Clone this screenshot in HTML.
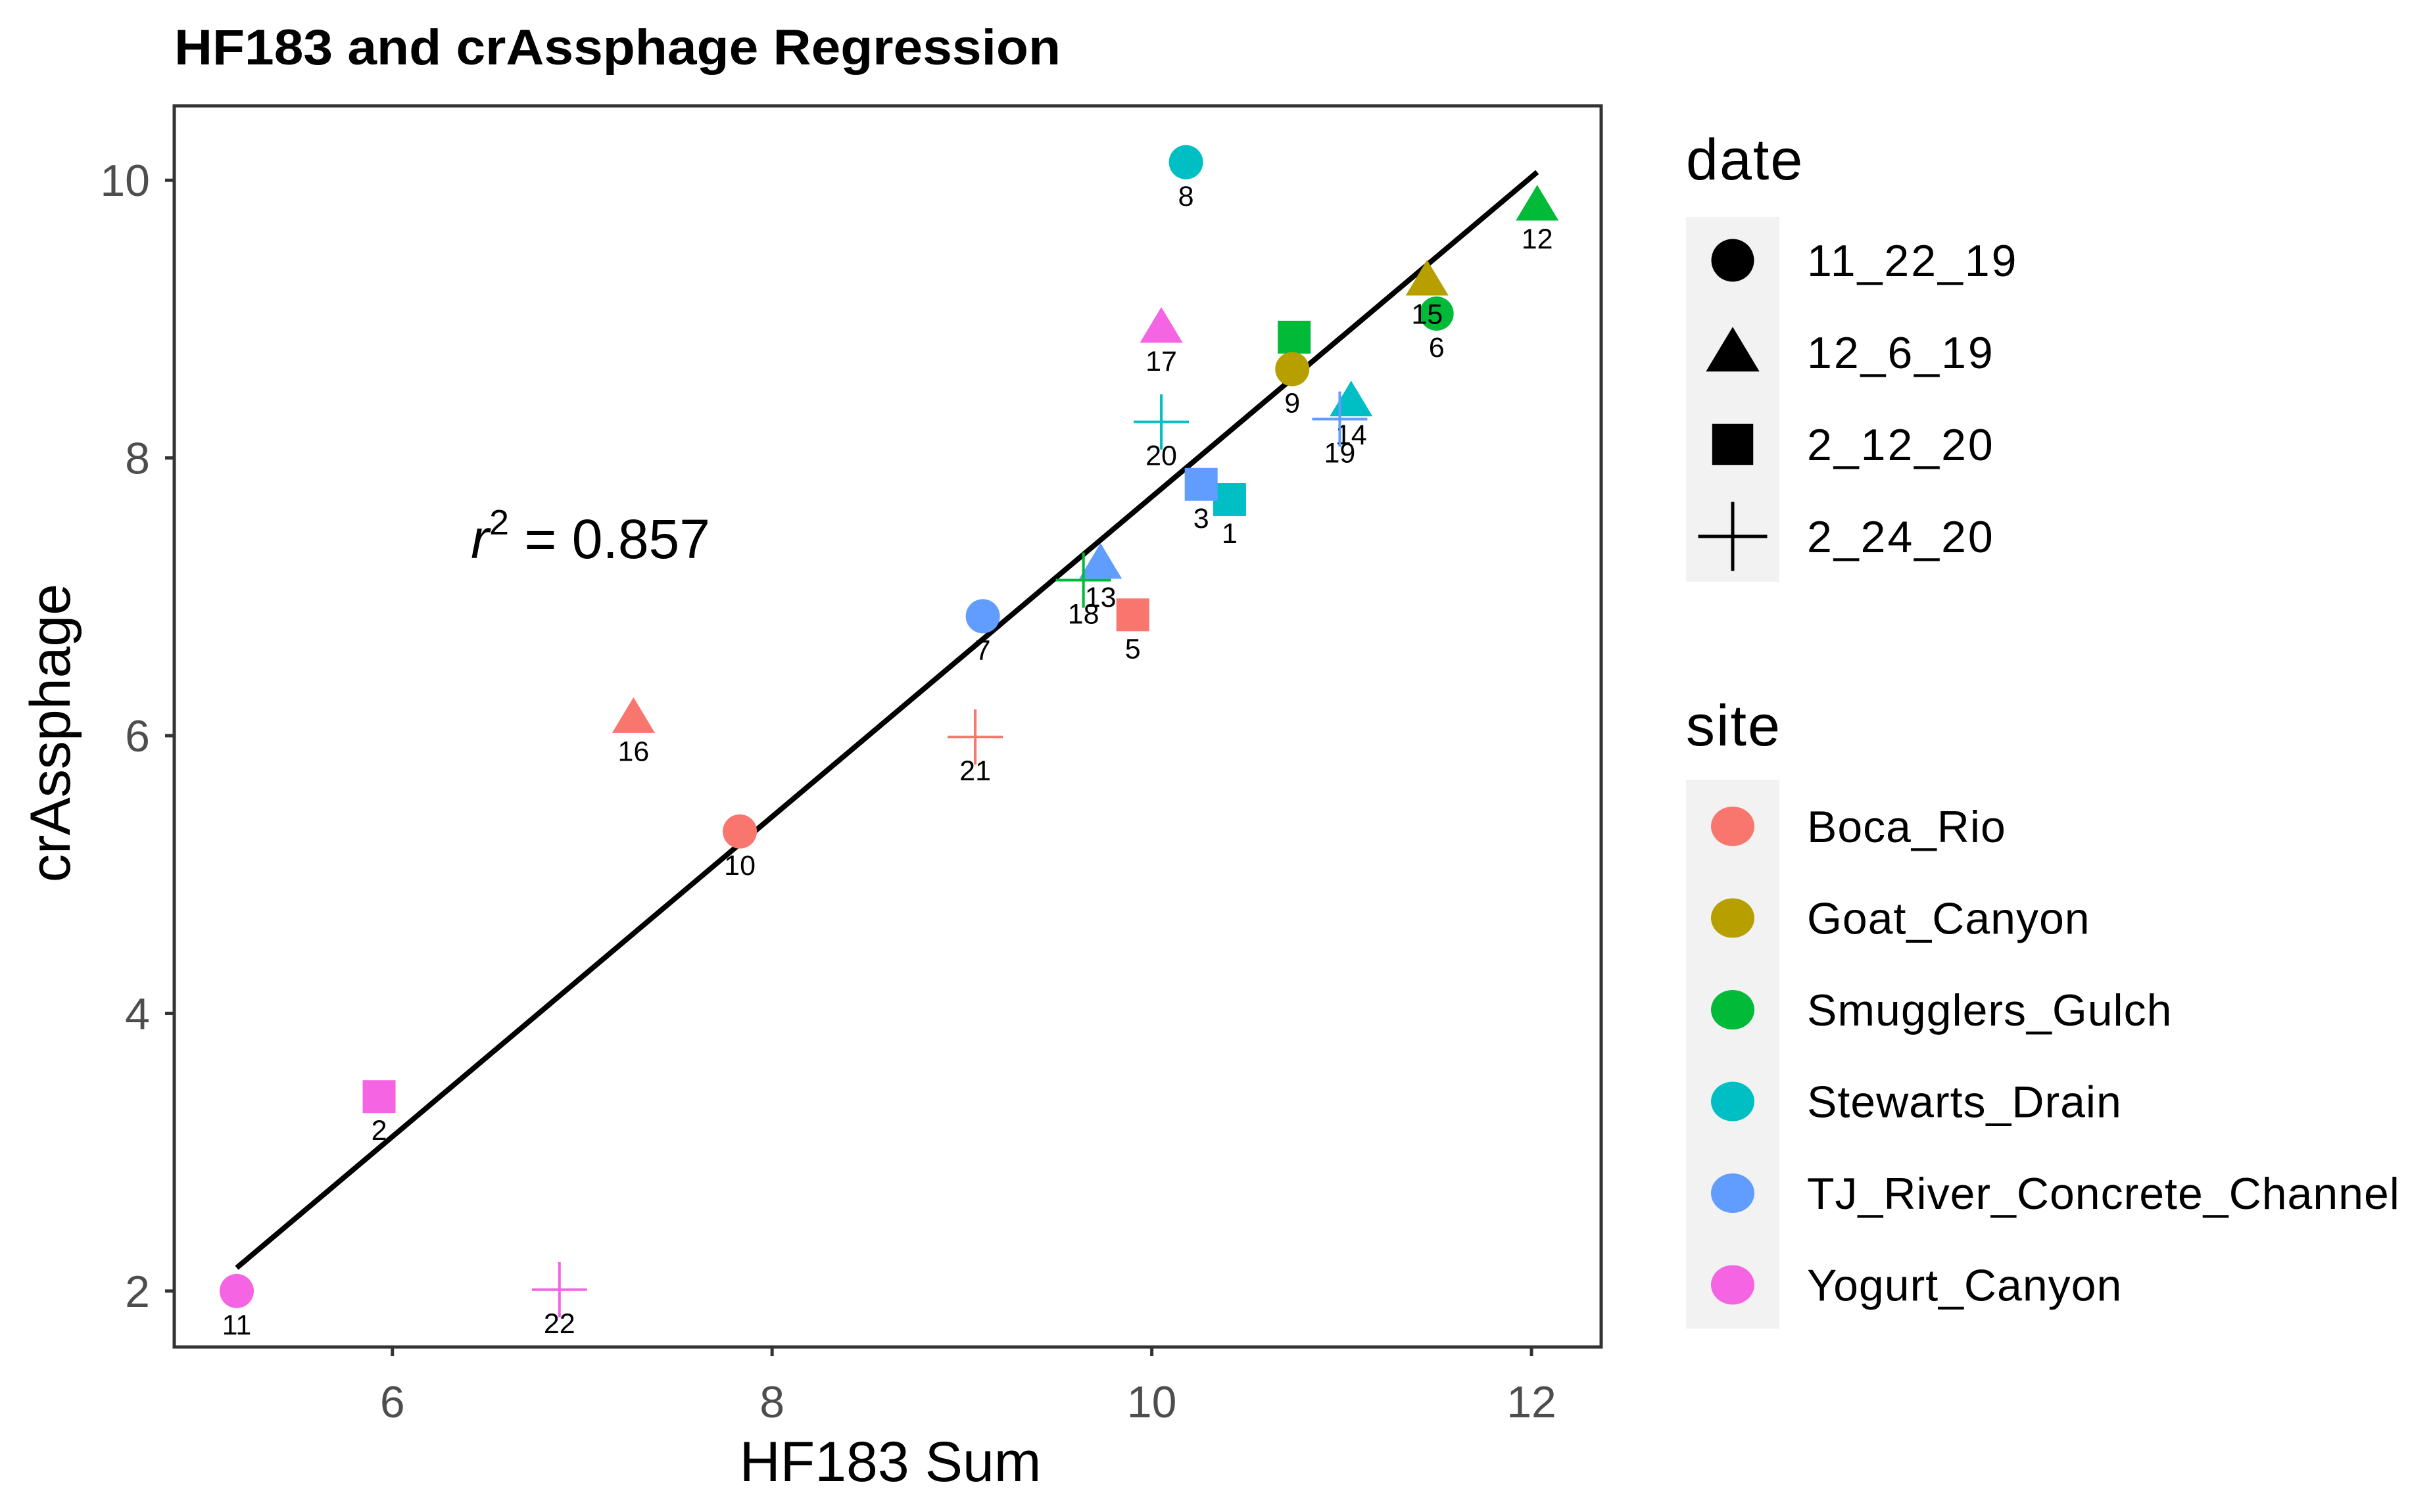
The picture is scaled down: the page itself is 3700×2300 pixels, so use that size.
<!DOCTYPE html>
<html><head><meta charset="utf-8"><style>
html,body{margin:0;padding:0;background:#fff;}
svg{display:block;font-family:"Liberation Sans",sans-serif;}
</style></head><body>
<svg id="chart" width="3700" height="2300" viewBox="0 0 3700 2300" xmlns="http://www.w3.org/2000/svg">
<rect width="3700" height="2300" fill="#fff"/>
<text x="265" y="98" font-size="76" font-weight="bold" fill="#000" textLength="1348" lengthAdjust="spacingAndGlyphs">HF183 and crAssphage Regression</text>
<g id="plot"></g>
<text x="1354" y="2253" font-size="86" text-anchor="middle" fill="#000">HF183 Sum</text>
<text transform="translate(106,1115) rotate(-90)" font-size="86" text-anchor="middle" fill="#000">crAssphage</text>
<text x="716" y="849" font-size="84" fill="#000"><tspan font-style="italic">r</tspan><tspan font-size="54" dy="-36">2</tspan><tspan dy="36"> = 0.857</tspan></text>
<g id="legend"></g>
</svg>
<script>
const ids = [1,2,3,4,5,6,7,8,9,10,11,12,13,14,15,16,17,18,19,20,21,22];
const hf183 = [10.41,5.93,10.26,10.75,9.90,11.50,9.11,10.18,10.74,7.83,5.18,12.03,9.73,11.05,11.45,7.27,10.05,9.64,10.99,10.05,9.07,6.88];
const crass = [7.70,3.40,7.81,8.87,6.87,9.04,6.86,10.13,8.64,5.31,2.00,9.82,7.24,8.41,9.28,6.13,8.94,7.12,8.28,8.26,5.99,2.01];
const dates = ["2_12_20","2_12_20","2_12_20","2_12_20","2_12_20","11_22_19","11_22_19","11_22_19","11_22_19","11_22_19","11_22_19","12_6_19","12_6_19","12_6_19","12_6_19","12_6_19","12_6_19","2_24_20","2_24_20","2_24_20","2_24_20","2_24_20"];
const sites = ["Stewarts_Drain","Yogurt_Canyon","TJ_River_Concrete_Channel","Smugglers_Gulch","Boca_Rio","Smugglers_Gulch","TJ_River_Concrete_Channel","Stewarts_Drain","Goat_Canyon","Boca_Rio","Yogurt_Canyon","Smugglers_Gulch","TJ_River_Concrete_Channel","Stewarts_Drain","Goat_Canyon","Boca_Rio","Yogurt_Canyon","Smugglers_Gulch","TJ_River_Concrete_Channel","Stewarts_Drain","Boca_Rio","Yogurt_Canyon"];
const dateLevels = ["11_22_19","12_6_19","2_12_20","2_24_20"];
const siteLevels = ["Boca_Rio","Goat_Canyon","Smugglers_Gulch","Stewarts_Drain","TJ_River_Concrete_Channel","Yogurt_Canyon"];
const siteColors = ["#F8766D","#B79F00","#00BA38","#00BFC4","#619CFF","#F564E3"];
const xTicks = [6,8,10,12];
const yTicks = [2,4,6,8,10];
const fitSlope = [1.152];
const fitIntercept = [-3.80];

const NS="http://www.w3.org/2000/svg";
const P={l:265,r:2435,t:161,b:2049};
const XD=[4.851,12.367], YD=[1.597,10.536];
const sx=v=>P.l+(v-XD[0])/(XD[1]-XD[0])*(P.r-P.l);
const sy=v=>P.b-(v-YD[0])/(YD[1]-YD[0])*(P.b-P.t);
function mk(tag,attrs,parent){const e=document.createElementNS(NS,tag);for(const k in attrs)e.setAttribute(k,attrs[k]);parent.appendChild(e);return e;}
const plot=document.getElementById('plot');

function shape(kind,cx,cy,color,parent,scale){
  scale=scale||1;let e;
  if(kind===0){e=mk('circle',{cx:cx,cy:cy,r:26*scale,fill:color},parent);}
  else if(kind===1){const h=31*scale;e=mk('polygon',{points:`${cx},${cy-h} ${cx+h*1.05},${cy+h*0.75} ${cx-h*1.05},${cy+h*0.75}`,fill:color},parent);}
  else if(kind===2){const s=25*scale;e=mk('rect',{x:cx-s,y:cy-s,width:2*s,height:2*s,fill:color},parent);}
  else {const s=42*scale;e=mk('path',{d:`M${cx-s},${cy}H${cx+s}M${cx},${cy-s}V${cy+s}`,stroke:color,'stroke-width':4*Math.max(1,scale),fill:'none'},parent);}
  return e;
}

xTicks.forEach(v=>{
  const t=mk('line',{x1:sx(v),x2:sx(v),y1:P.b,y2:P.b+14,stroke:'#333','stroke-width':5},plot);
  
  
  const l=mk('text',{x:sx(v),y:2156,'font-size':68,'text-anchor':'middle',fill:'#4d4d4d'},plot);
  l.textContent=v;
  
  
});
yTicks.forEach(v=>{
  const t=mk('line',{x1:P.l-14,x2:P.l,y1:sy(v),y2:sy(v),stroke:'#333','stroke-width':5},plot);
  
  
  const l=mk('text',{x:228,y:sy(v)+24,'font-size':68,'text-anchor':'end',fill:'#4d4d4d'},plot);
  l.textContent=v;
  
  
});

const xmin=Math.min(...hf183), xmax=Math.max(...hf183);
const fit=mk('line',{x1:sx(xmin),y1:sy(fitIntercept[0]+fitSlope[0]*xmin),x2:sx(xmax),y2:sy(fitIntercept[0]+fitSlope[0]*xmax),stroke:'#000','stroke-width':8},plot);



ids.forEach((id,i)=>{
  const cx=sx(hf183[i]), cy=sy(crass[i]);
  const col=siteColors[siteLevels.indexOf(sites[i])];
  const p=shape(dateLevels.indexOf(dates[i]),cx,cy,col,plot);
  
  
  const l=mk('text',{x:cx,y:cy+66,'font-size':43,'text-anchor':'middle',fill:'#000'},plot);
  l.textContent=id;
  
  
});

const border=mk('rect',{x:P.l,y:P.t,width:P.r-P.l,height:P.b-P.t,fill:'none',stroke:'#333','stroke-width':5},plot);



const lg=document.getElementById('legend');
const LX=2564;
const dt=mk('text',{x:LX,y:273,'font-size':88,fill:'#000','letter-spacing':2},lg);
dt.textContent='date';


mk('rect',{x:LX,y:330,width:142,height:555,fill:'#f2f2f2'},lg);
dateLevels.forEach((d,i)=>{
  const cy=396+i*140;
  const s=shape(i,LX+71,cy,'#000',lg,1.25);
  
  
  const t=mk('text',{x:LX+184,y:cy+24,'font-size':68,fill:'#000','letter-spacing':3},lg);
  t.textContent=d;
  
  
});
const st=mk('text',{x:LX,y:1134,'font-size':88,fill:'#000','letter-spacing':2},lg);
st.textContent='site';


mk('rect',{x:LX,y:1186,width:142,height:835,fill:'#f2f2f2'},lg);
siteLevels.forEach((s,i)=>{
  const cy=1257+i*139.5;
  const c=mk('ellipse',{cx:LX+71,cy:cy,rx:33,ry:30,fill:siteColors[i]},lg);
  
  
  const t=mk('text',{x:LX+184,y:cy+24,'font-size':68,fill:'#000','letter-spacing':1},lg);
  t.textContent=s;
  
  
});
</script>
</body></html>
